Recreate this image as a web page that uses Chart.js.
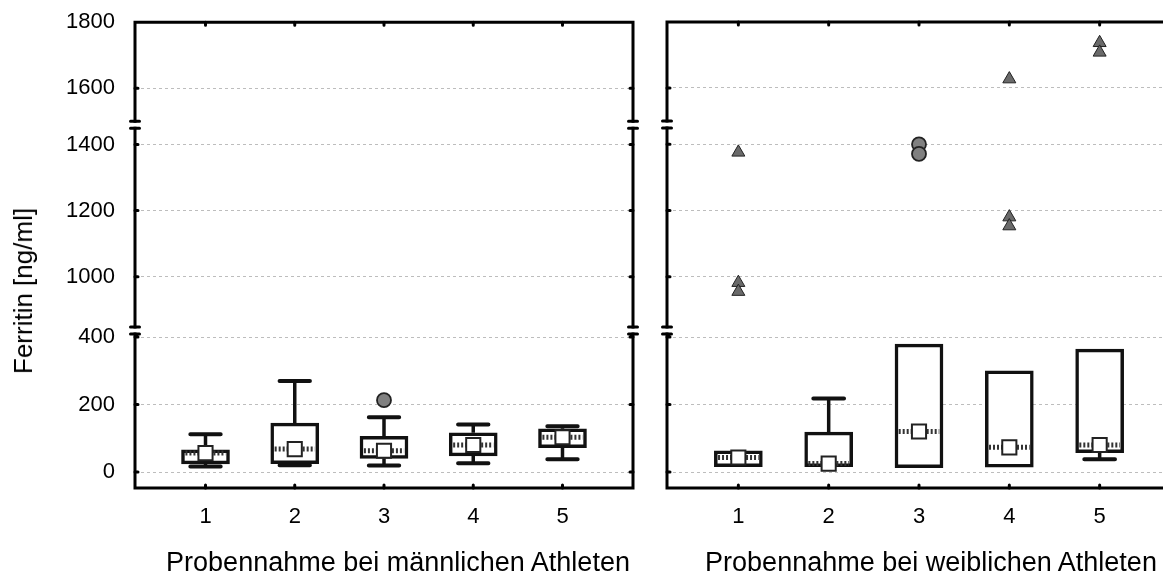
<!DOCTYPE html>
<html>
<head>
<meta charset="utf-8">
<script src="https://cdn.jsdelivr.net/npm/chart.js@4.4.0/dist/chart.umd.min.js"></script>
<style>
  html, body { margin: 0; padding: 0; background: #fff; overflow: hidden; width: 1163px; height: 579px; }
  body { position: relative; font-family: "Liberation Sans", Arial, sans-serif; color: #000; }
  canvas { position: absolute; top: 0; }
  #chartM { left: 0; }
  #chartF { left: 645px; }
  .xtitle { position: absolute; top: 549px; font-size: 27px; line-height: 1; white-space: nowrap; transform: translateX(-50%); }
  .ytitle { position: absolute; left: 23px; top: 291px; font-size: 26px; line-height: 1; white-space: nowrap;
            transform: translate(-50%, -50%) rotate(-90deg); }
</style>
</head>
<body>
<canvas id="chartM" width="645" height="579"></canvas>
<canvas id="chartF" width="540" height="579"></canvas>
<div class="ytitle">Ferritin [ng/ml]</div>
<div class="xtitle" style="left:398px">Probennahme bei männlichen Athleten</div>
<div class="xtitle" style="left:931px">Probennahme bei weiblichen Athleten</div>

<script>
/* ---------- Data ---------- */
const categories = [1, 2, 3, 4, 5];
const yTickValues = [0, 200, 400, 1000, 1200, 1400, 1600, 1800];

// männliche Athleten
const maleQ1 = [24, 25, 40, 48, 72];
const maleQ3 = [66, 145, 106, 116, 128];
const maleMedian = [56, 68, 63, 80, 103];
const maleLow = [16, 20, 19, 26, 38];
const maleHigh = [112, 270, 162, 141, 136];
const maleCircles = [{x: 3, y: 213}];
const maleTriangles = [];

// weibliche Athleten
const femaleQ1 = [16, 16, 13, 14, 57];
const femaleQ3 = [63, 118, 379, 300, 364];
const femaleMedian = [43, 25, 120, 73, 80];
const femaleLow = [16, 16, 13, 14, 38];
const femaleHigh = [63, 218, 379, 300, 364];
const femaleCircles = [{x: 3, y: 1400}, {x: 3, y: 1371}];
const femaleTriangles = [
  {x: 1, y: 1405}, {x: 1, y: 982}, {x: 1, y: 955},
  {x: 4, y: 1627}, {x: 4, y: 1180}, {x: 4, y: 1153},
  {x: 5, y: 1737}, {x: 5, y: 1708}
];

/* ---------- broken y axis ---------- */
// value ranges and where they sit on the drawn axis (units = px above the 0 line)
const AXIS_SEGMENTS = [
  {from: 0, to: 400, a: 0, b: 135},
  {from: 1000, to: 1400, a: 195.3, b: 327.7},
  {from: 1600, to: 1800, a: 384, b: 450}
];
const AXIS_BREAKS = [138, 145, 344, 351]; // break marks, in axis units
const Y_MIN = -16, Y_MAX = 450;
const X_MIN = 0.21, X_MAX = 5.79;
const PLOT_TOP = 22, PLOT_BOTTOM = 488, PAGE_H = 579;

function mapY(v){
  const s = AXIS_SEGMENTS.find(s => v <= s.to) || AXIS_SEGMENTS[AXIS_SEGMENTS.length - 1];
  return s.a + (v - s.from) * (s.b - s.a) / (s.to - s.from);
}

const FONT = '"Liberation Sans", Arial, sans-serif';
const INK = '#111';
const CAP = 0.17, HALF = 0.225;

function buildDatasets(q1, q3, med, lo, hi, circles, tris){
  const boxes = categories.map((c, i) => ({x: c, y: [mapY(q1[i]), mapY(q3[i])]}));
  const whisk = [], caps = [], medLine = [];
  categories.forEach((c, i) => {
    if (hi[i] > q3[i]) {
      whisk.push({x: c, y: mapY(q3[i])}, {x: c, y: mapY(hi[i])}, {x: c, y: null});
      caps.push({x: c - CAP, y: mapY(hi[i])}, {x: c + CAP, y: mapY(hi[i])}, {x: c + CAP, y: null});
    }
    if (lo[i] < q1[i]) {
      whisk.push({x: c, y: mapY(q1[i])}, {x: c, y: mapY(lo[i])}, {x: c, y: null});
      caps.push({x: c - CAP, y: mapY(lo[i])}, {x: c + CAP, y: mapY(lo[i])}, {x: c + CAP, y: null});
    }
    medLine.push({x: c - HALF, y: mapY(med[i])}, {x: c + HALF, y: mapY(med[i])}, {x: c + HALF, y: null});
  });
  const medPts = categories.map((c, i) => ({x: c, y: mapY(med[i])}));
  const line = (data, w, extra) => Object.assign({
    type: 'line', data, borderColor: INK, borderWidth: w, pointRadius: 0,
    fill: false, tension: 0, spanGaps: false
  }, extra);
  return [
    {type: 'bar', data: boxes, backgroundColor: '#fff', borderColor: INK, borderWidth: 3.5,
     borderSkipped: false, barThickness: 48, order: 6},
    line(whisk, 3.5, {order: 5}),
    line(caps, 4, {borderCapStyle: 'round', order: 4}),
    line(medLine, 5, {borderColor: '#333', borderDash: [2, 2], order: 3}),
    {type: 'scatter', data: medPts, pointStyle: 'rect', pointRadius: 10, backgroundColor: '#fff',
     borderColor: '#222', borderWidth: 2, order: 1},
    {type: 'scatter', data: circles.map(p => ({x: p.x, y: mapY(p.y)})), pointStyle: 'circle', pointRadius: 7,
     backgroundColor: '#808080', borderColor: '#222', borderWidth: 1.8, order: 2},
    {type: 'scatter', data: tris.map(p => ({x: p.x, y: mapY(p.y)})), pointStyle: 'triangle', pointRadius: 7.5,
     backgroundColor: '#6a6a6a', borderColor: '#222', borderWidth: 1, order: 2}
  ];
}

/* ---------- frame, axis breaks, inner tick marks ---------- */
const framePlugin = {
  id: 'frame',
  afterDatasetsDraw(chart){
    const {ctx, chartArea: a, scales: {x, y}} = chart;
    const br = AXIS_BREAKS.map(v => y.getPixelForValue(v));
    ctx.save();
    ctx.strokeStyle = '#000';
    ctx.lineWidth = 3;
    ctx.lineCap = 'square';
    ctx.beginPath();
    ctx.moveTo(a.left, a.top); ctx.lineTo(a.right, a.top);
    ctx.moveTo(a.left, a.bottom); ctx.lineTo(a.right, a.bottom);
    [a.left, a.right].forEach(ex => {
      ctx.moveTo(ex, a.bottom); ctx.lineTo(ex, br[0]);
      ctx.moveTo(ex, br[1]); ctx.lineTo(ex, br[2]);
      ctx.moveTo(ex, br[3]); ctx.lineTo(ex, a.top);
    });
    ctx.stroke();
    ctx.lineCap = 'round';
    ctx.beginPath();
    [a.left, a.right].forEach(ex => br.forEach(py => { ctx.moveTo(ex - 4.5, py); ctx.lineTo(ex + 4.5, py); }));
    yTickValues.slice(0, -1).forEach(v => {
      const py = y.getPixelForValue(mapY(v));
      ctx.moveTo(a.left, py); ctx.lineTo(a.left + 3, py);
      ctx.moveTo(a.right, py); ctx.lineTo(a.right - 3, py);
    });
    categories.forEach(c => {
      const px = x.getPixelForValue(c);
      ctx.moveTo(px, a.bottom); ctx.lineTo(px, a.bottom - 3);
      ctx.moveTo(px, a.top); ctx.lineTo(px, a.top + 3);
    });
    ctx.stroke();
    ctx.restore();
  }
};

function chartConfig(datasets, showY, yWidth, padRight){
  return {
    type: 'bar',
    data: {datasets},
    options: {
      responsive: false,
      animation: false,
      events: [],
      layout: {padding: {top: 0, right: padRight, left: 0, bottom: 0}},
      plugins: {legend: {display: false}, tooltip: {enabled: false}},
      scales: {
        x: {
          type: 'linear', min: X_MIN, max: X_MAX, offset: false, bounds: 'data',
          grid: {display: false, drawTicks: false},
          border: {display: false},
          afterBuildTicks: s => { s.ticks = categories.map(c => ({value: c})); },
          afterFit: s => { s.height = PAGE_H - PLOT_BOTTOM; },
          ticks: {autoSkip: false, maxRotation: 0, padding: 16, color: '#000',
                  font: {family: FONT, size: 22}, callback: (v, i) => String(categories[i])}
        },
        y: {
          type: 'linear', min: Y_MIN, max: Y_MAX, bounds: 'data',
          grid: {color: c => (c.index === yTickValues.length - 1 ? 'rgba(0,0,0,0)' : '#bdbdbd'),
                 lineWidth: 1, drawTicks: false},
          border: {display: false, dash: [3, 3]},
          afterBuildTicks: s => { s.ticks = yTickValues.map(v => ({value: mapY(v)})); },
          afterFit: s => { s.width = yWidth; },
          ticks: {display: showY, autoSkip: false, padding: 20, color: '#000',
                  font: {family: FONT, size: 22}, callback: (v, i) => String(yTickValues[i])}
        }
      }
    },
    plugins: [framePlugin]
  };
}

function makeChart(id, datasets, showY, yWidth, padRight){
  const canvas = document.getElementById(id);
  // first pass: find where the plot area top lands, then size/shift the canvas so it sits at PLOT_TOP
  const probe = new Chart(canvas, chartConfig(datasets, showY, yWidth, padRight));
  const shift = probe.chartArea.top - PLOT_TOP;
  probe.destroy();
  canvas.height = Math.round(PAGE_H + shift);
  canvas.style.top = Math.round(-shift) + 'px';
  return new Chart(canvas, chartConfig(datasets, showY, yWidth, padRight));
}

makeChart('chartM', buildDatasets(maleQ1, maleQ3, maleMedian, maleLow, maleHigh, maleCircles, maleTriangles), true, 135, 8);
makeChart('chartF', buildDatasets(femaleQ1, femaleQ3, femaleMedian, femaleLow, femaleHigh, femaleCircles, femaleTriangles), false, 22, 14);
</script>
</body>
</html>
